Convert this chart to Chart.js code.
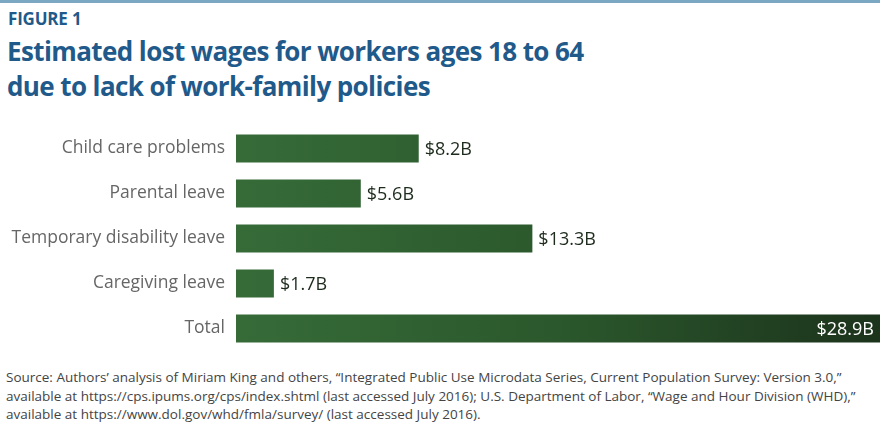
<!DOCTYPE html>
<html>
<head>
<meta charset="utf-8">
<script src="https://cdn.jsdelivr.net/npm/chart.js@4.4.1/dist/chart.umd.min.js"></script>
<style>
  html, body { margin: 0; padding: 0; background: #fff; }
  body { width: 883px; height: 434px; position: relative; overflow: hidden; font-family: "Open Sans", sans-serif; }
  #topline { position: absolute; left: 0; top: 0; width: 880px; height: 3px; background: #7ba7c2; }
  #fig { position: absolute; left: 8px; top: 7px; font-size: 17px; font-weight: 700; color: #1f5a8a; letter-spacing: -0.2px; }
  #title { position: absolute; left: 7px; top: 34px; font-size: 26px; line-height: 35px; font-weight: 700; color: #1f5a8a; letter-spacing: -0.6px; }
  #c { position: absolute; left: 0; top: 126px; }
  #source { position: absolute; left: 6px; top: 368px; font-family: "Open Sans", sans-serif; font-size: 13.5px; line-height: 18.5px; color: #444; }
</style>
</head>
<body>
<div id="topline"></div>
<div id="fig">FIGURE 1</div>
<div id="title">Estimated lost wages for workers ages 18 to 64<br>due to lack of work-family policies</div>
<canvas id="c" width="883" height="225" style="width:883px;height:225px"></canvas>
<div id="source">Source: Authors’ analysis of Miriam King and others, “Integrated Public Use Microdata Series, Current Population Survey: Version 3.0,”<br>available at https://cps.ipums.org/cps/index.shtml (last accessed July 2016); U.S. Department of Labor, “Wage and Hour Division (WHD),”<br>available at https://www.dol.gov/whd/fmla/survey/ (last accessed July 2016).</div>
<script>
const categories = ["Child care problems", "Parental leave", "Temporary disability leave", "Caregiving leave", "Total"];
const values = [8.2, 5.6, 13.3, 1.7, 28.9];
const valueLabels = ["$8.2B", "$5.6B", "$13.3B", "$1.7B", "$28.9B"];

const labelPlugin = {
  id: 'valueLabels',
  afterDatasetsDraw(chart) {
    const ctx = chart.ctx;
    const meta = chart.getDatasetMeta(0);
    ctx.save();
    ctx.font = '18px "Open Sans", sans-serif';
    ctx.textBaseline = 'middle';
    meta.data.forEach((bar, i) => {
      const last = i === values.length - 1;
      if (last) {
        ctx.fillStyle = '#ffffff';
        ctx.textAlign = 'right';
        ctx.fillText(valueLabels[i], bar.x - 6, bar.y + 1);
      } else {
        ctx.fillStyle = '#1d2b1d';
        ctx.textAlign = 'left';
        ctx.fillText(valueLabels[i], bar.x + 6, bar.y + 1);
      }
    });
    ctx.restore();
  }
};

new Chart(document.getElementById('c'), {
  type: 'bar',
  data: {
    labels: categories,
    datasets: [{
      data: values,
      backgroundColor: (c) => {
        const area = c.chart.chartArea;
        if (!area) return '#2f5f30';
        const g = c.chart.ctx.createLinearGradient(area.left, 0, area.right, 0);
        g.addColorStop(0, '#366b38');
        g.addColorStop(0.5, '#2b582c');
        g.addColorStop(1, '#1c331c');
        return g;
      },
      borderWidth: 0,
      barPercentage: 0.62,
      categoryPercentage: 1.0
    }]
  },
  options: {
    indexAxis: 'y',
    responsive: false,
    maintainAspectRatio: false,
    devicePixelRatio: 1,
    animation: false,
    layout: { padding: { left: 0, right: 3, top: 0, bottom: 0 } },
    plugins: { legend: { display: false }, tooltip: { enabled: false } },
    scales: {
      x: { display: false, min: 0, max: 28.9 },
      y: {
        grid: { display: true, drawTicks: true, tickLength: 11, drawOnChartArea: false, color: 'rgba(0,0,0,0)' },
        border: { display: false },
        afterFit(scale) { scale.width = 236; scale.paddingTop = 0; scale.paddingBottom = 0; },
        ticks: {
          padding: 0,
          color: '#666666',
          font: { family: '"Open Sans", sans-serif', size: 17.5 }
        }
      }
    }
  },
  plugins: [labelPlugin]
});
</script>
</body>
</html>
